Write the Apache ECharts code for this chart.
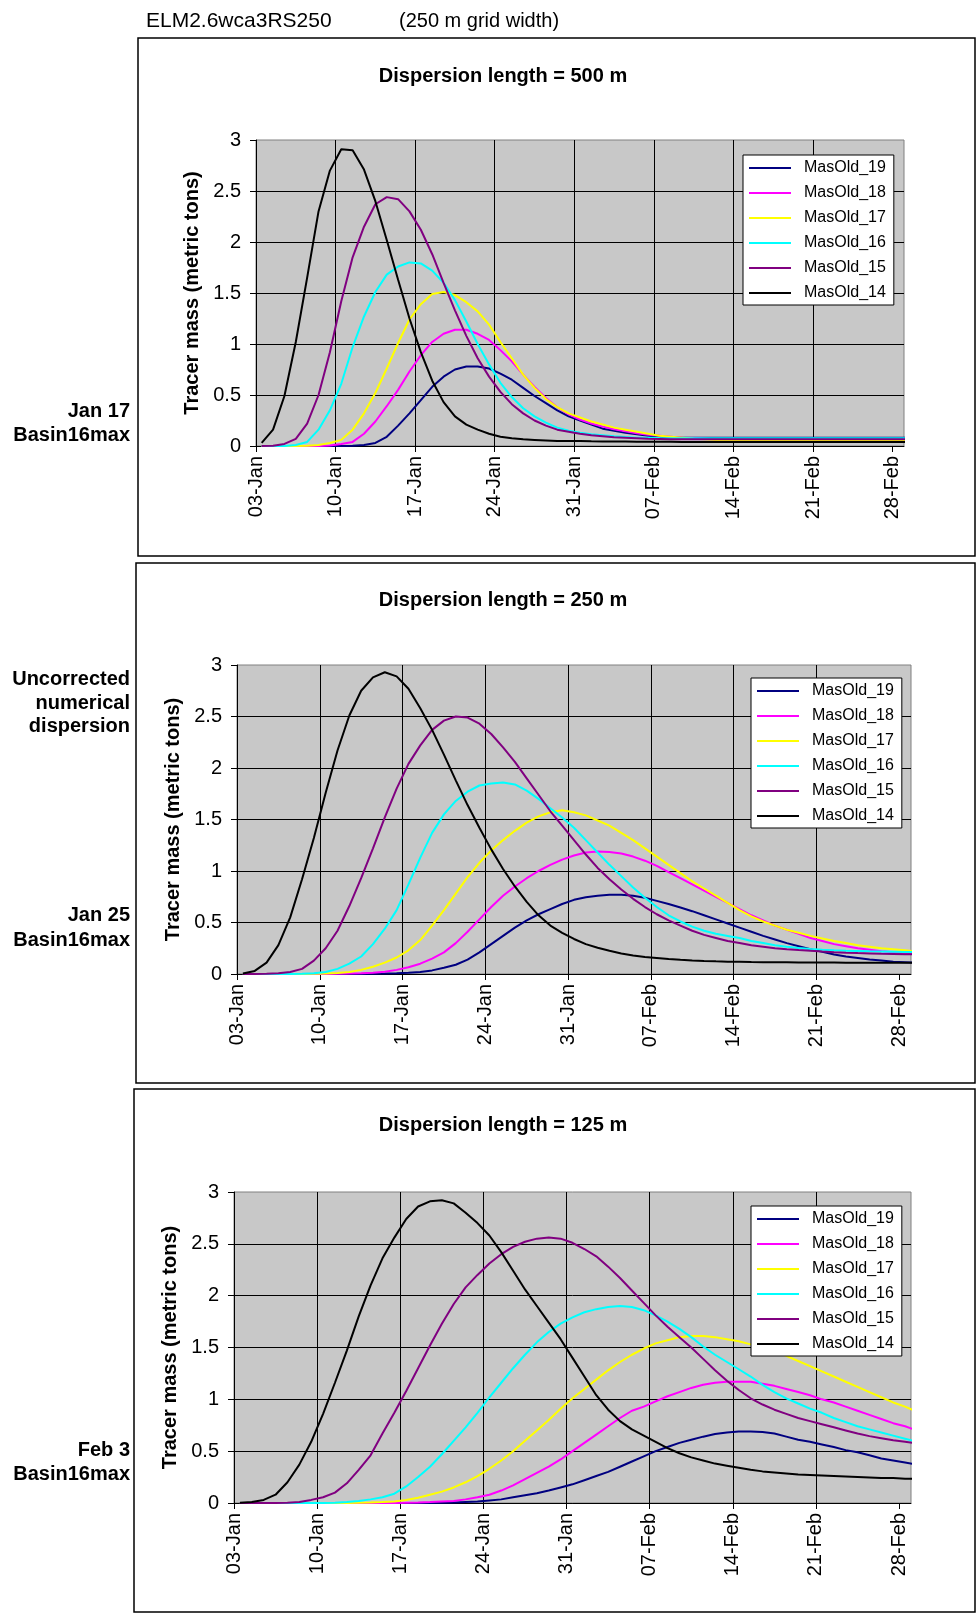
<!DOCTYPE html>
<html><head><meta charset="utf-8">
<script src="https://cdn.jsdelivr.net/npm/echarts@6/dist/echarts.min.js"></script>
<style>html,body{margin:0;padding:0;background:#fff;}#c{width:978px;height:1615px;}</style>
</head><body><div id="c"></div>
<script>
// ---------- data ----------
const seriesNames = ['MasOld_19','MasOld_18','MasOld_17','MasOld_16','MasOld_15','MasOld_14'];
const seriesColors = ['#000080','#ff00ff','#ffff00','#00ffff','#800080','#000000'];
const tickLabels = ['03-Jan','10-Jan','17-Jan','24-Jan','31-Jan','07-Feb','14-Feb','21-Feb','28-Feb'];
const chartTitles = ['Dispersion length = 500 m','Dispersion length = 250 m','Dispersion length = 125 m'];
const yTitle = 'Tracer mass (metric tons)';
const headerLeft = 'ELM2.6wca3RS250';
const headerRight = '(250 m grid width)';

// daily samples (midday), day 0 = 03-Jan
const c500_19 = [0,0,0,0,0,0,0,0,0.003,0.01,
0.03,0.09,0.2,0.32,0.45,0.58,0.68,0.75,0.78,0.78,
0.76,0.71,0.65,0.57,0.49,0.42,0.35,0.29,0.25,0.21,
0.17,0.15,0.13,0.115,0.1,0.09,0.085,0.08,0.08,0.08,
0.08,0.08,0.08,0.08,0.08,0.08,0.08,0.08,0.08,0.08,
0.08,0.08,0.08,0.08,0.08,0.08,0.08,0.08];
const c500_18 = [0,0,0,0,0,0,0.005,0.02,0.04,0.12,
0.24,0.39,0.55,0.73,0.89,1.02,1.1,1.14,1.14,1.1,
1.04,0.94,0.83,0.7,0.58,0.47,0.38,0.31,0.26,0.22,
0.19,0.165,0.145,0.125,0.11,0.1,0.09,0.08,0.075,0.07,
0.065,0.062,0.06,0.06,0.06,0.06,0.06,0.06,0.06,0.06,
0.06,0.06,0.06,0.06,0.06,0.06,0.06,0.06];
const c500_17 = [0,0,0,0,0.003,0.01,0.03,0.06,0.16,0.32,
0.52,0.76,1.01,1.24,1.39,1.49,1.51,1.48,1.41,1.32,
1.19,1.02,0.86,0.7,0.57,0.46,0.38,0.32,0.28,0.24,
0.21,0.18,0.16,0.14,0.12,0.1,0.09,0.08,0.07,0.065,
0.06,0.058,0.056,0.055,0.054,0.053,0.052,0.052,0.051,0.051,
0.05,0.05,0.05,0.05,0.05,0.05,0.05,0.05];
const c500_16 = [0,0,0,0.01,0.04,0.16,0.35,0.61,0.97,1.27,
1.51,1.68,1.76,1.8,1.79,1.72,1.6,1.43,1.22,1.0,
0.8,0.62,0.48,0.37,0.29,0.23,0.18,0.15,0.13,0.115,
0.105,0.095,0.088,0.082,0.08,0.078,0.077,0.076,0.075,0.075,
0.075,0.075,0.075,0.075,0.075,0.075,0.075,0.075,0.075,0.075,
0.075,0.075,0.075,0.075,0.075,0.075,0.075,0.075];
const c500_15 = [0,0.003,0.02,0.07,0.22,0.5,0.92,1.42,1.85,2.15,
2.37,2.44,2.42,2.3,2.12,1.88,1.6,1.33,1.08,0.86,
0.68,0.53,0.41,0.32,0.25,0.2,0.16,0.14,0.12,0.105,
0.095,0.085,0.08,0.075,0.07,0.068,0.066,0.065,0.065,0.065,
0.065,0.065,0.065,0.065,0.065,0.065,0.065,0.065,0.065,0.065,
0.065,0.065,0.065,0.065,0.065,0.065,0.065,0.065];
const c500_14 = [0.03,0.16,0.49,1.02,1.65,2.3,2.7,2.91,2.9,2.71,
2.4,2.02,1.63,1.25,0.92,0.64,0.43,0.29,0.21,0.16,
0.12,0.09,0.075,0.065,0.06,0.055,0.05,0.05,0.048,0.046,
0.045,0.044,0.043,0.042,0.042,0.041,0.041,0.04,0.04,0.04,
0.04,0.04,0.04,0.04,0.04,0.04,0.04,0.04,0.04,0.04,
0.04,0.04,0.04,0.04,0.04,0.04,0.04,0.04];

const c250_19 = [0,0,0,0,0,0,0,0,0,0,
0,0.002,0.004,0.007,0.012,0.02,0.035,0.06,0.09,0.14,
0.21,0.29,0.37,0.45,0.52,0.58,0.63,0.68,0.72,0.745,
0.76,0.77,0.77,0.76,0.74,0.71,0.68,0.645,0.61,0.57,
0.53,0.49,0.45,0.41,0.37,0.335,0.3,0.27,0.24,0.215,
0.19,0.17,0.155,0.14,0.13,0.12,0.115,0.11];
const c250_18 = [0,0,0,0,0,0,0,0,0.002,0.004,
0.007,0.012,0.022,0.04,0.065,0.1,0.15,0.21,0.3,0.41,
0.53,0.65,0.76,0.85,0.93,1.0,1.06,1.11,1.15,1.18,
1.19,1.185,1.17,1.14,1.1,1.05,0.99,0.93,0.87,0.81,
0.75,0.69,0.63,0.57,0.52,0.47,0.43,0.39,0.35,0.32,
0.29,0.27,0.25,0.235,0.22,0.21,0.2,0.195];
const c250_17 = [0,0,0,0,0,0,0.002,0.005,0.01,0.02,
0.04,0.07,0.11,0.16,0.23,0.33,0.47,0.62,0.78,0.94,
1.08,1.2,1.3,1.39,1.47,1.53,1.57,1.59,1.57,1.54,
1.49,1.44,1.37,1.3,1.22,1.14,1.06,0.98,0.9,0.83,
0.76,0.69,0.62,0.56,0.51,0.47,0.43,0.4,0.37,0.345,
0.32,0.3,0.28,0.265,0.25,0.24,0.23,0.22];
const c250_16 = [0,0,0,0,0,0.003,0.008,0.02,0.05,0.1,
0.17,0.29,0.44,0.62,0.87,1.13,1.37,1.55,1.68,1.77,
1.83,1.85,1.86,1.84,1.78,1.7,1.61,1.52,1.42,1.3,
1.18,1.06,0.95,0.84,0.74,0.65,0.57,0.51,0.46,0.42,
0.39,0.37,0.35,0.32,0.3,0.28,0.265,0.252,0.242,0.235,
0.23,0.226,0.223,0.22,0.218,0.216,0.214,0.212];
const c250_15 = [0,0,0.003,0.008,0.02,0.05,0.13,0.25,0.42,0.66,
0.93,1.22,1.52,1.8,2.04,2.22,2.37,2.46,2.5,2.49,
2.43,2.33,2.2,2.06,1.9,1.74,1.58,1.44,1.3,1.16,
1.03,0.92,0.82,0.73,0.65,0.58,0.52,0.47,0.42,0.38,
0.35,0.32,0.3,0.28,0.265,0.25,0.24,0.232,0.225,0.218,
0.212,0.207,0.203,0.2,0.197,0.195,0.192,0.19];
const c250_14 = [0.005,0.03,0.11,0.28,0.55,0.92,1.32,1.76,2.17,2.51,
2.75,2.88,2.93,2.89,2.77,2.58,2.37,2.13,1.88,1.64,
1.42,1.21,1.02,0.85,0.7,0.57,0.47,0.4,0.34,0.29,
0.255,0.225,0.2,0.18,0.165,0.155,0.145,0.138,0.132,0.127,
0.123,0.12,0.118,0.116,0.115,0.114,0.113,0.112,0.112,0.111,
0.111,0.11,0.11,0.11,0.11,0.11,0.11,0.11];

const c125_19 = [0,0,0,0,0,0,0,0,0,0,
0,0,0,0,0,0,0,0.002,0.005,0.01,
0.015,0.025,0.035,0.055,0.075,0.095,0.12,0.15,0.18,0.22,
0.26,0.3,0.35,0.4,0.45,0.5,0.54,0.58,0.61,0.64,
0.665,0.68,0.69,0.69,0.685,0.67,0.64,0.61,0.59,0.565,
0.54,0.51,0.49,0.46,0.43,0.41,0.39,0.37];
const c125_18 = [0,0,0,0,0,0,0,0,0,0,
0,0,0,0,0.003,0.006,0.01,0.015,0.02,0.035,
0.055,0.08,0.12,0.17,0.23,0.29,0.35,0.42,0.5,0.58,
0.66,0.74,0.82,0.89,0.93,0.98,1.03,1.07,1.11,1.14,
1.16,1.17,1.17,1.17,1.15,1.13,1.1,1.07,1.04,1.0,
0.97,0.93,0.89,0.85,0.81,0.77,0.74,0.7];
const c125_17 = [0,0,0,0,0,0,0,0,0,0,
0.003,0.006,0.01,0.015,0.03,0.05,0.08,0.11,0.15,0.2,
0.26,0.33,0.41,0.5,0.6,0.7,0.8,0.91,1.01,1.1,
1.19,1.28,1.36,1.43,1.49,1.54,1.57,1.6,1.61,1.61,
1.6,1.58,1.56,1.53,1.5,1.46,1.42,1.37,1.32,1.27,
1.22,1.17,1.12,1.07,1.02,0.97,0.93,0.88];
const c125_16 = [0,0,0,0,0,0,0,0,0.003,0.01,
0.02,0.035,0.055,0.09,0.16,0.25,0.35,0.47,0.6,0.73,
0.87,1.02,1.16,1.3,1.43,1.55,1.65,1.73,1.79,1.84,
1.87,1.89,1.9,1.89,1.86,1.81,1.75,1.68,1.6,1.51,
1.43,1.36,1.29,1.22,1.14,1.07,1.01,0.96,0.91,0.87,
0.82,0.78,0.74,0.71,0.68,0.65,0.62,0.59];
const c125_15 = [0,0,0,0,0.003,0.01,0.03,0.055,0.1,0.19,
0.32,0.46,0.67,0.87,1.08,1.3,1.52,1.73,1.92,2.08,
2.2,2.31,2.4,2.47,2.52,2.55,2.56,2.55,2.51,2.45,
2.38,2.28,2.17,2.05,1.93,1.81,1.7,1.6,1.5,1.39,
1.28,1.18,1.09,1.01,0.95,0.9,0.86,0.82,0.79,0.76,
0.73,0.7,0.67,0.645,0.625,0.605,0.59,0.575];
const c125_14 = [0.003,0.01,0.03,0.08,0.2,0.37,0.59,0.86,1.16,1.47,
1.8,2.1,2.36,2.56,2.74,2.86,2.91,2.92,2.89,2.8,
2.7,2.58,2.42,2.24,2.06,1.9,1.74,1.58,1.4,1.22,
1.04,0.9,0.79,0.71,0.65,0.59,0.53,0.48,0.44,0.41,
0.38,0.36,0.34,0.32,0.305,0.295,0.285,0.275,0.27,0.265,
0.26,0.255,0.25,0.245,0.24,0.24,0.235,0.235];

const chartSeries = [
  [c500_19, c500_18, c500_17, c500_16, c500_15, c500_14],
  [c250_19, c250_18, c250_17, c250_16, c250_15, c250_14],
  [c125_19, c125_18, c125_17, c125_16, c125_15, c125_14]
];

// ---------- layout ----------
const FONT = '"Liberation Sans", Arial, sans-serif';
const grids = [
  {left: 256, top: 140, width: 648, height: 306},
  {left: 237, top: 665, width: 674, height: 309},
  {left: 234, top: 1192, width: 677, height: 311}
];
const boxes = [
  {x: 138, y: 38, w: 837, h: 518},
  {x: 136, y: 563, w: 839, h: 520},
  {x: 134, y: 1089, w: 841, h: 523}
];
const titleY = [76, 600, 1125];
const titleX = 503;
const legendPos = [{left: 743, top: 155}, {left: 751, top: 678}, {left: 751, top: 1206}];
const sideLabels = [
  {lines: ['Jan 17', 'Basin16max'], y: [411, 435]},
  {lines: ['Uncorrected', 'numerical', 'dispersion'], y: [679, 703, 726]},
  {lines: ['Jan 25', 'Basin16max'], y: [915, 940]},
  {lines: ['Feb 3', 'Basin16max'], y: [1450, 1474]}
];
const tickVals = tickLabels.map((_, j) => j * 7);

const chart = echarts.init(document.getElementById('c'), null, {renderer: 'canvas'});

const graphic = [];
function txt(x, y, text, font, align) {
  graphic.push({type: 'text', x: 0, y: 0, silent: true,
    style: {x: x, y: y, text: text, font: font, fill: '#000',
      textAlign: align, textVerticalAlign: 'middle', align: align, verticalAlign: 'middle'}});
}
txt(146, 21, headerLeft, '21px ' + FONT, 'left');
txt(399, 21, headerRight, '20px ' + FONT, 'left');
boxes.forEach(b => graphic.push({type: 'rect', silent: true,
  shape: {x: b.x, y: b.y, width: b.w, height: b.h},
  style: {fill: 'none', stroke: '#000', lineWidth: 1.5}}));
chartTitles.forEach((t, i) => txt(titleX, titleY[i], t, 'bold 20px ' + FONT, 'center'));
sideLabels.forEach(s => s.lines.forEach((l, j) => txt(130, s.y[j], l, 'bold 20px ' + FONT, 'right')));

const xAxis = [], yAxis = [], series = [], legend = [];
grids.forEach((g, i) => {
  xAxis.push({
    gridIndex: i, type: 'value', min: 0, max: 57, interval: 7,
    axisLine: {show: true, onZero: false, lineStyle: {color: '#000', width: 1}},
    axisTick: {show: true, length: 6, lineStyle: {color: '#000'}, customValues: tickVals},
    axisLabel: {rotate: 90, margin: 10, fontSize: 20, fontFamily: FONT, color: '#000',
      customValues: tickVals, formatter: v => tickLabels[Math.round(v / 7)] || ''},
    splitLine: {show: true, showMaxLine: false, lineStyle: {color: '#000', width: 1}}
  });
  yAxis.push({
    gridIndex: i, type: 'value', min: 0, max: 3, interval: 0.5,
    name: yTitle, nameLocation: 'middle', nameGap: 52,
    nameTextStyle: {fontSize: 20, fontWeight: 'bold', fontFamily: FONT, color: '#000'},
    axisLine: {show: true, lineStyle: {color: '#000', width: 1}},
    axisTick: {show: true, length: 6, lineStyle: {color: '#000'}},
    axisLabel: {fontSize: 20, fontFamily: FONT, color: '#000', margin: 15},
    splitLine: {show: true, showMaxLine: false, lineStyle: {color: '#000', width: 1}}
  });
  chartSeries[i].forEach((vals, s) => {
    series.push({
      type: 'line', name: seriesNames[s], xAxisIndex: i, yAxisIndex: i,
      data: vals.map((v, k) => [k + 0.5, v]),
      symbol: 'none', showSymbol: false, clip: true, silent: true,
      lineStyle: {color: seriesColors[s], width: 2},
      itemStyle: {color: seriesColors[s]}
    });
  });
  legend.push({
    left: legendPos[i].left, top: legendPos[i].top, orient: 'vertical',
    data: seriesNames, selectedMode: false,
    icon: 'rect',
    backgroundColor: '#fff', borderColor: '#000', borderWidth: 1, borderRadius: 0,
    padding: [5, 8, 4, 6], itemWidth: 42, itemHeight: 2, itemGap: 9,
    textStyle: {fontSize: 16, fontFamily: FONT, color: '#000', lineHeight: 16, padding: [0, 0, 0, 8]}
  });
});

chart.setOption({
  animation: false,
  backgroundColor: '#fff',
  grid: grids.map(g => Object.assign({show: true, backgroundColor: '#c8c8c8', borderColor: '#808080', borderWidth: 1}, g)),
  xAxis: xAxis, yAxis: yAxis, series: series, legend: legend, graphic: graphic
});
</script></body></html>
